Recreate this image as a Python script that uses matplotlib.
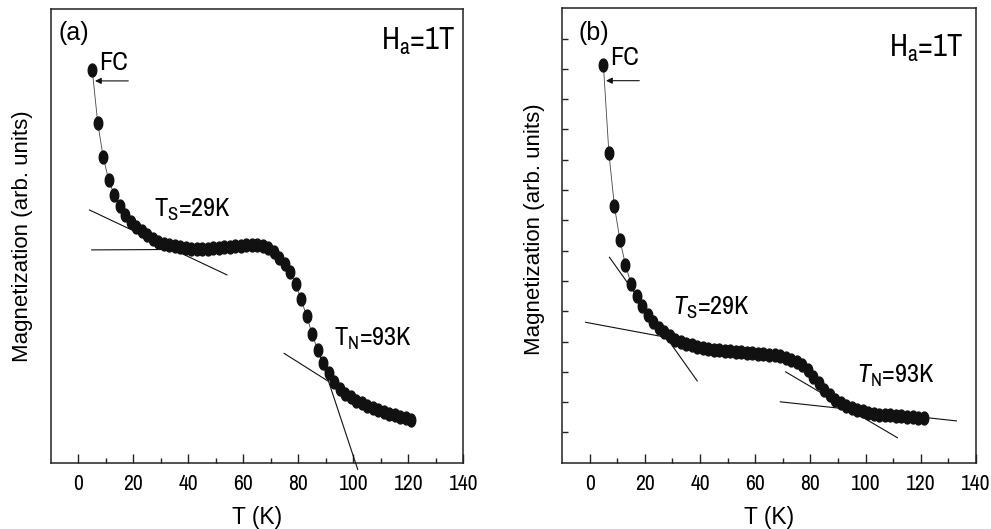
import matplotlib
matplotlib.use("Agg")
import matplotlib.pyplot as plt
from matplotlib import font_manager
from matplotlib.path import Path
import numpy as np

# ---- data -------------------------------------------------------------
temperature = [5, 7, 9, 11, 13, 15, 17, 19, 21, 23, 25, 27, 29, 31, 33, 35,
               37, 39, 41, 43, 45, 47, 49, 51, 53, 55, 57, 59, 61, 63, 65,
               67, 69, 71, 73, 75, 77, 79, 81, 83, 85, 87, 89, 91, 93, 95,
               97, 99, 101, 103, 105, 107, 109, 111, 113, 115, 117, 119, 121]

# magnetization, arbitrary units (percent of the plotted range)
mag_a = [86.6, 74.9, 67.3, 62.3, 59.0, 56.5, 54.5, 53.0, 52.0, 51.0, 50.1,
         49.3, 48.7, 48.3, 47.9, 47.7, 47.5, 47.3, 47.2, 47.1, 47.1, 47.2,
         47.3, 47.4, 47.5, 47.6, 47.7, 47.8, 47.9, 47.9, 47.9, 47.7, 47.3,
         46.5, 45.2, 43.9, 42.0, 39.4, 36.0, 32.3, 28.4, 24.8, 22.0, 19.7,
         17.8, 16.3, 15.2, 14.4, 13.7, 13.1, 12.6, 12.1, 11.6, 11.2, 10.8,
         10.5, 10.1, 9.8, 9.4]

mag_b = [87.5, 68.1, 56.4, 49.0, 43.5, 39.4, 36.6, 34.5, 32.6, 31.0, 29.7,
         28.7, 27.8, 27.1, 26.6, 26.1, 25.8, 25.5, 25.3, 25.1, 24.9, 24.7,
         24.6, 24.5, 24.4, 24.3, 24.2, 24.1, 24.0, 23.9, 23.8, 23.6, 23.4,
         23.1, 22.7, 22.2, 21.4, 20.3, 18.9, 17.5, 16.1, 14.9, 13.9, 13.1,
         12.5, 12.0, 11.6, 11.3, 11.0, 10.8, 10.6, 10.5, 10.4, 10.3, 10.2,
         10.1, 10.0, 9.9, 9.8]

# tangent constructions used to locate the transitions: (T, M) end points
tangents_a = [[(4.0, 55.7), (54.0, 41.4)],
              [(4.8, 46.9), (35.0, 47.0)],
              [(74.8, 24.1), (91.0, 17.9)],
              [(87.0, 25.2), (101.6, -1.5)]]
tangents_b = [[(7.2, 45.2), (39.0, 18.0)],
              [(-1.45, 30.9), (33.0, 27.0)],
              [(71.0, 20.0), (111.5, 5.5)],
              [(69.1, 13.4), (132.9, 9.2)]]

x_ticks = [0, 20, 40, 60, 80, 100, 120, 140]
x_tick_labels = ["0", "20", "40", "60", "80", "100", "120", "140"]

# ---- fonts ------------------------------------------------------------
fonts = font_manager.fontManager.ttflist


def pick(candidates, style="normal"):
    for c in candidates:
        if any(f.name == c and f.style == style for f in fonts):
            return c
    return "Liberation Sans"


NARROW = pick(["Archivo Narrow", "Roboto Condensed", "PT Sans Narrow"])
NARROW_IT = pick([NARROW, "Roboto Condensed", "Archivo Narrow"], "italic")

plt.rcParams["font.family"] = ["Liberation Sans", "DejaVu Sans"]
plt.rcParams["mathtext.fontset"] = "custom"
plt.rcParams["mathtext.rm"] = NARROW
plt.rcParams["mathtext.it"] = NARROW_IT + ":italic"

# slightly tall elliptical marker
th = np.linspace(0, 2 * np.pi, 40)
ellipse = Path(np.column_stack([0.66 * np.cos(th), np.sin(th)]), closed=True)

INK = "#111111"

fig = plt.figure(figsize=(9.91, 5.29), dpi=100)
ax_a = fig.add_axes([51 / 991, 66.3 / 529, 412.3 / 991, 453.7 / 529])
ax_b = fig.add_axes([562 / 991, 66.3 / 529, 414 / 991, 454.4 / 529])


def style_axes(ax, yticks):
    ax.set_xlim(-10, 140)
    ax.set_ylim(0, 100)
    for s in ax.spines.values():
        s.set_linewidth(1.1)
        s.set_color("#222222")
    ax.set_xticks(x_ticks)
    ax.set_xticklabels(x_tick_labels, fontfamily=NARROW, fontsize=15.5)
    ax.set_xticks(np.arange(10, 140, 20), minor=True)
    ax.tick_params(axis="x", which="major", direction="in", length=6.5,
                   width=1.0, pad=8, color="#222222")
    ax.tick_params(axis="x", which="minor", direction="in", length=3.6,
                   width=1.0, color="#222222")
    if yticks:
        ax.set_yticks(np.arange(1, 15) * 100 / 15)
        ax.tick_params(axis="y", which="major", direction="in", length=4.3,
                       width=1.0, color="#222222", labelleft=False)
    else:
        ax.set_yticks([])
    ax.set_xlabel("T (K)", fontsize=16.5)
    ax.xaxis.set_label_coords(0.5, -0.095)
    ax.set_ylabel("Magnetization (arb. units)", fontsize=16)


def draw_panel(ax, mag, tangents):
    ax.plot(temperature, mag, color="#444444", lw=0.6, zorder=2)
    ax.plot(temperature, mag, ls="none", marker=ellipse, ms=9.3,
            color=INK, mec=INK, zorder=3)
    for (t0, m0), (t1, m1) in tangents:
        ax.plot([t0, t1], [m0, m1], color=INK, lw=0.8, zorder=4,
                clip_on=False)


style_axes(ax_a, yticks=False)
style_axes(ax_b, yticks=True)
ax_a.yaxis.set_label_coords(-0.044, 0.5)
ax_b.yaxis.set_label_coords(-0.041, 0.514)

draw_panel(ax_a, mag_a, tangents_a)
draw_panel(ax_b, mag_b, tangents_b)

arrow = dict(arrowstyle="-|>", lw=0.8, color=INK, mutation_scale=9,
             shrinkA=0, shrinkB=0)

# panel (a) annotations
ax_a.text(0.0177, 0.946, "(a)", transform=ax_a.transAxes, fontsize=18,
          ha="left", va="center")
ax_a.text(0.117, 0.866, "FC", transform=ax_a.transAxes, fontsize=19,
          fontfamily=NARROW, ha="left", va="baseline")
ax_a.annotate("", xy=(0.1067, 0.8415), xytext=(0.1875, 0.8415),
              xycoords="axes fraction", arrowprops=arrow)
ax_a.text(0.80, 0.909, r"H$_\mathrm{a}$=1T", transform=ax_a.transAxes,
          fontsize=22, fontfamily=NARROW, ha="left", va="baseline")
ax_a.text(0.2498, 0.542, r"T$_\mathrm{S}$=29K", transform=ax_a.transAxes,
          fontsize=19, fontfamily=NARROW, ha="left", va="baseline")
ax_a.text(0.686, 0.257, r"T$_\mathrm{N}$=93K", transform=ax_a.transAxes,
          fontsize=19, fontfamily=NARROW, ha="left", va="baseline")

# panel (b) annotations
ax_b.text(0.0394, 0.945, "(b)", transform=ax_b.transAxes, fontsize=18,
          ha="left", va="center")
ax_b.text(0.116, 0.875, "FC", transform=ax_b.transAxes, fontsize=19,
          fontfamily=NARROW, ha="left", va="baseline")
ax_b.annotate("", xy=(0.1063, 0.8407), xytext=(0.1867, 0.8407),
              xycoords="axes fraction", arrowprops=arrow)
ax_b.text(0.79, 0.893, r"H$_\mathrm{a}$=1T", transform=ax_b.transAxes,
          fontsize=22, fontfamily=NARROW, ha="left", va="baseline")
ax_b.text(0.269, 0.325, r"$T_\mathrm{S}$=29K", transform=ax_b.transAxes,
          fontsize=19, fontfamily=NARROW, ha="left", va="baseline")
ax_b.text(0.712, 0.175, r"$T_\mathrm{N}$=93K", transform=ax_b.transAxes,
          fontsize=19, fontfamily=NARROW, ha="left", va="baseline")

fig.savefig("out.png", dpi=100)
